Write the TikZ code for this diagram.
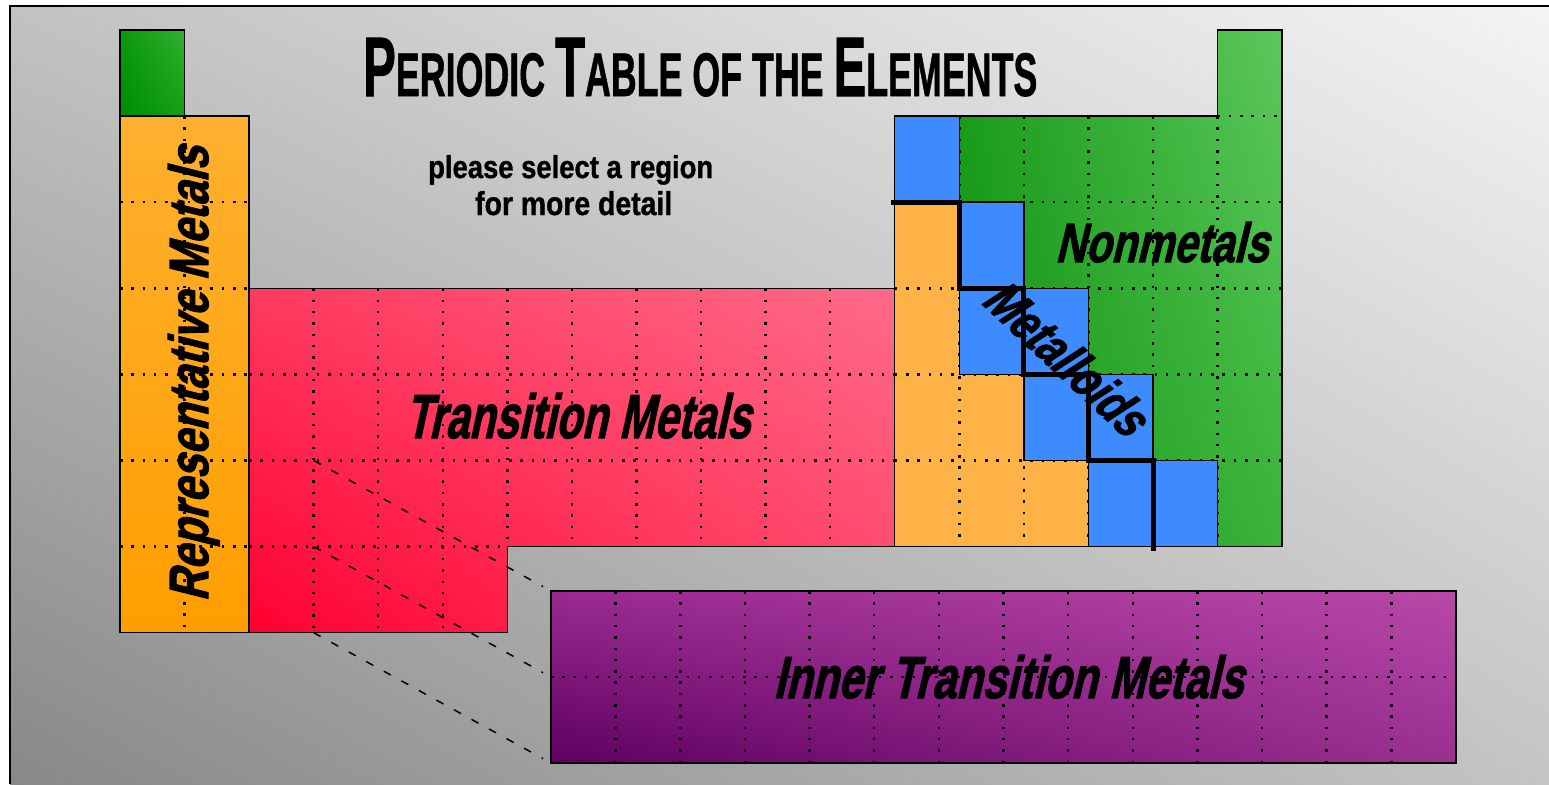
\documentclass[tikz,border=0pt]{standalone}
\usepackage{fontspec}
\usepackage{graphicx}
\usetikzlibrary{shadings}
\newfontfamily\condf[FakeBold=1.2]{Liberation Sans}
\newfontfamily\slantf[FakeSlant=0.32,FakeBold=2]{Liberation Sans}
\definecolor{bgTL}{HTML}{C2C2C2}
\definecolor{bgTR}{HTML}{F4F4F4}
\definecolor{bgBL}{HTML}{888888}
\definecolor{bgBR}{HTML}{C4C4C4}
\definecolor{hTL}{HTML}{0A9A0A}
\definecolor{hTR}{HTML}{30B030}
\definecolor{hBL}{HTML}{008C00}
\definecolor{hBR}{HTML}{14A014}
\definecolor{orTop}{HTML}{FFB030}
\definecolor{orBot}{HTML}{FF9E00}
\definecolor{rdTL}{HTML}{FF3A60}
\definecolor{rdTR}{HTML}{FF6A88}
\definecolor{rdBL}{HTML}{FF0030}
\definecolor{rdBR}{HTML}{FF4468}
\definecolor{gnTL}{HTML}{0E940E}
\definecolor{gnTR}{HTML}{5CC85C}
\definecolor{gnBL}{HTML}{0A8C0A}
\definecolor{gnBR}{HTML}{3AB43A}
\definecolor{orP}{HTML}{FFB245}
\definecolor{blueM}{HTML}{3D8BFF}
\definecolor{puTL}{HTML}{9A2A90}
\definecolor{puTR}{HTML}{B848A8}
\definecolor{puBL}{HTML}{5E0060}
\definecolor{puBR}{HTML}{9A3090}
\newcommand{\PTtitle}{\resizebox{674pt}{58pt}{\condf\bfseries\fontsize{20pt}{20pt}\selectfont P\fontsize{14.6pt}{14.6pt}\selectfont ERIODIC \fontsize{20pt}{20pt}\selectfont T\fontsize{14.6pt}{14.6pt}\selectfont ABLE OF THE \fontsize{20pt}{20pt}\selectfont E\fontsize{14.6pt}{14.6pt}\selectfont LEMENTS}}
\newcommand{\PTselA}{\resizebox{285pt}{23pt}{\condf\bfseries please select a region}}
\newcommand{\PTselB}{\resizebox{197pt}{24pt}{\condf\bfseries for more detail}}
\newcommand{\PTrep}{\resizebox{455pt}{40pt}{\slantf\bfseries Representative Metals}}
\newcommand{\PTtrans}{\resizebox{345pt}{45pt}{\slantf\bfseries Transition Metals}}
\newcommand{\PTnon}{\resizebox{213pt}{40pt}{\slantf\bfseries Nonmetals}}
\newcommand{\PTmetd}{\resizebox{200pt}{38pt}{\slantf\bfseries Metalloids}}
\newcommand{\PTinner}{\resizebox{470pt}{43pt}{\slantf\bfseries Inner Transition Metals}}
\begin{document}
\begin{tikzpicture}[x=1pt,y=-1pt,
  outline/.style={draw=black, line width=1.5pt},
  griddot/.style={draw=black, line width=2.5pt, dash pattern=on 2.5pt off 8.8pt},
  connector/.style={draw=black, line width=1.5pt, dash pattern=on 8pt off 12pt, shorten >=9pt},
  stair/.style={draw=black, line width=5pt, line cap=rect},
  lab/.style={inner sep=0pt, anchor=base west}]
\useasboundingbox (0,0) rectangle (1549,784);
\fill[white] (0,0) rectangle (1549,784);
\shade[upper left=bgTL, upper right=bgTR, lower left=bgBL, lower right=bgBR] (10,6) rectangle (1549,784);
\draw[line width=2.5pt] (10,784) -- (10,6) -- (1549,6);

% hydrogen cell
\shade[upper left=hTL, upper right=hTR, lower left=hBL, lower right=hBR] (120,30) rectangle (184.6,116.1);
% representative metals column
\shade[top color=orTop, bottom color=orBot] (120,116.1) rectangle (249.1,632.7);
\draw[griddot] (184.6,116.1) -- (184.6,632.7);
\foreach \y in {202.2,288.3,374.4,460.5,546.6} \draw[griddot] (120,\y) -- (249.1,\y);

% transition metals
\shade[upper left=rdTL, upper right=rdTR, lower left=rdBL, lower right=rdBR]
  (249.1,288.3) -- (894.7,288.3) -- (894.7,546.6) -- (507.4,546.6) -- (507.4,632.7) -- (249.1,632.7) -- cycle;
\foreach \k in {3,...,11} \draw[griddot] ({120+64.56*\k},288.3) -- ({120+64.56*\k},546.6);
\foreach \k in {3,4,5} \draw[griddot] ({120+64.56*\k},546.6) -- ({120+64.56*\k},632.7);
\foreach \y in {374.4,460.5} \draw[griddot] (249.1,\y) -- (894.7,\y);
\draw[griddot] (249.1,546.6) -- (507.4,546.6);

% p-block
\shade[upper left=gnTL, upper right=gnTR, lower left=gnBL, lower right=gnBR]
  (894.7,116.1) -- (1217.5,116.1) -- (1217.5,30) -- (1282.1,30) -- (1282.1,546.6) -- (894.7,546.6) -- cycle;
\fill[orP] (894.7,202.2) -- (959.3,202.2) -- (959.3,374.4) -- (1023.8,374.4) -- (1023.8,460.5) -- (1088.4,460.5) -- (1088.4,546.6) -- (894.7,546.6) -- cycle;
\foreach \k in {13,...,17} \draw[griddot] ({120+64.56*\k},116.1) -- ({120+64.56*\k},546.6);
\foreach \y in {202.2,288.3,374.4,460.5} \draw[griddot] (894.7,\y) -- (1282.1,\y);
\draw[griddot] (1217.5,116.1) -- (1282.1,116.1);
\filldraw[fill=blueM, draw=black, line width=1.5pt]
  (894.7,116.1) -- (959.3,116.1) -- (959.3,202.2) -- (1023.8,202.2) -- (1023.8,288.3) -- (1088.4,288.3) -- (1088.4,374.4) -- (1153,374.4) -- (1153,460.5) -- (1217.5,460.5) -- (1217.5,546.6) -- (1088.4,546.6) -- (1088.4,460.5) -- (1023.8,460.5) -- (1023.8,374.4) -- (959.3,374.4) -- (959.3,202.2) -- (894.7,202.2) -- cycle;
\draw[stair] (893,202.2) -- (959.3,202.2) -- (959.3,288.3) -- (1023.8,288.3) -- (1023.8,374.4) -- (1088.4,374.4) -- (1088.4,460.5) -- (1153,460.5) -- (1153,548);

% inner transition metals
\shade[upper left=puTL, upper right=puTR, lower left=puBL, lower right=puBR] (551,591) rectangle (1456,763);
\foreach \k in {1,...,13} \draw[griddot] ({551+64.64*\k},591) -- ({551+64.64*\k},763);
\draw[griddot] (551,677) -- (1456,677);

% outlines
\draw[outline] (120,30) rectangle (184.6,116.1);
\draw[outline] (120,116.1) rectangle (249.1,632.7);
\draw[outline] (249.1,288.3) -- (894.7,288.3) -- (894.7,546.6) -- (507.4,546.6) -- (507.4,632.7) -- (249.1,632.7) -- cycle;
\draw[outline] (894.7,116.1) -- (1217.5,116.1) -- (1217.5,30) -- (1282.1,30) -- (1282.1,546.6) -- (894.7,546.6) -- cycle;
\draw[outline] (551,591) rectangle (1456,763);

% dashed connectors
\coordinate (la) at (313.7,460.5);
\coordinate (lb) at (313.7,546.6);
\coordinate (lc) at (313.7,632.7);
\coordinate (ia) at (551,591);
\coordinate (ib) at (551,677);
\coordinate (ic) at (551,763);
\draw[connector] (la) -- (ia);
\draw[connector] (lb) -- (ib);
\draw[connector] (lc) -- (ic);

% texts
\node[lab] (title) at (363,96) {\PTtitle};
\node[lab] (selA) at (428,178) {\PTselA};
\node[lab] (selB) at (475,215) {\PTselB};
\node[inner sep=0pt, anchor=base, rotate=90] (rep) at (208,374) {\PTrep};
\node[lab] (trans) at (405,438) {\PTtrans};
\node[lab] (non) at (1055,262) {\PTnon};
\node[inner sep=0pt, anchor=center, rotate=-43] (metd) at (1066,357) {\PTmetd};
\node[lab] (inner) at (773,698) {\PTinner};
\end{tikzpicture}
\end{document}
